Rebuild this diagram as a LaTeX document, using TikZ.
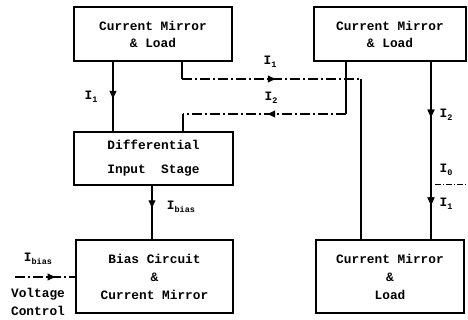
\documentclass[tikz,border=0pt]{standalone}
\usepackage{fontspec}
\setmainfont{Liberation Mono}
\usetikzlibrary{arrows.meta,decorations.markings}
\newcommand{\cur}[1]{I\raisebox{-2.5pt}{\fontsize{8.5}{9}\selectfont #1}}
\tikzset{
  x=1pt, y=-1pt,
  every node/.style={font=\fontsize{12.8}{17}\selectfont\bfseries, inner sep=0pt},
  blk/.style={draw, line width=1.4pt, align=center},
  wire/.style={line width=1.2pt},
  dwire/.style={line width=1.2pt, dash pattern=on 10pt off 3pt on 2pt off 3pt},
  midarrow/.style={postaction={decorate}, decoration={markings,
     mark=at position #1 with {\arrow{Latex[length=9pt,width=7.5pt]}}}},
  lbl/.style={anchor=center}
}
\begin{document}
\begin{tikzpicture}
\useasboundingbox (0,0) rectangle (468,320);
% blocks
\node[blk, minimum width=158pt, minimum height=54pt] (cm1) at (153,34) {Current Mirror\\\& Load};
\node[blk, minimum width=152pt, minimum height=54pt] (cm2) at (390,34) {Current Mirror\\\& Load};
\node[blk, minimum width=159pt, minimum height=53pt] (diff) at (153.5,158.5) {Differential\\[7pt]Input~~Stage};
\node[blk, minimum width=157pt, minimum height=73pt] (bias) at (154.5,276.5) {Bias Circuit\\[1pt]\&\\[1pt]Current Mirror};
\node[blk, minimum width=148pt, minimum height=73pt] (cm3) at (390,276.5) {Current Mirror\\[1pt]\&\\[1pt]Load};
% helper coordinates
\coordinate (l1) at (113,0);
\coordinate (a1) at (182,79);
\coordinate (a2) at (361,79);
\coordinate (b1) at (346,114);
\coordinate (b2) at (183,114);
\coordinate (r1) at (431,0);
\coordinate (m1) at (152,0);
\coordinate (in) at (15,277);
\coordinate (d1) at (435,184);
\coordinate (d2) at (468,184);
% connectors
\draw[wire, midarrow=0.55] (cm1.south -| l1) -- (diff.north -| l1);
\draw[wire] (cm1.south -| a1) -- (a1);
\draw[dwire, midarrow=0.53] (a1) -- (a2);
\draw[wire] (a2) -- (cm3.north -| a2);
\draw[wire] (cm2.south -| b1) -- (b1);
\draw[dwire, midarrow=0.49] (b1) -- (b2);
\draw[wire] (b2) -- (diff.north -| b2);
\draw[wire, midarrow=0.32, midarrow=0.815] (cm2.south -| r1) -- (cm3.north -| r1);
\draw[wire, midarrow=0.44] (diff.south -| m1) -- (bias.north -| m1);
\draw[dwire, midarrow=0.69] (in) -- (bias.west |- in);
\draw[line width=0.8pt, dash pattern=on 6pt off 2pt on 1pt off 2pt] (d1) -- (d2);
% labels
\node[lbl] (t1) at (91,97) {\cur{1}};
\node[lbl] (t2) at (270,62) {\cur{1}};
\node[lbl] (t3) at (271,98) {\cur{2}};
\node[lbl] (t4) at (446,115) {\cur{2}};
\node[lbl] (t5) at (446,170) {\cur{0}};
\node[lbl] (t6) at (446,204) {\cur{1}};
\node[lbl] (t7) at (181,207) {\cur{bias}};
\node[lbl] (t8) at (38,259) {\cur{bias}};
\node[lbl] (t9) at (38,294) {Voltage};
\node[lbl] (t10) at (38,311) {Control};
\end{tikzpicture}
\end{document}
